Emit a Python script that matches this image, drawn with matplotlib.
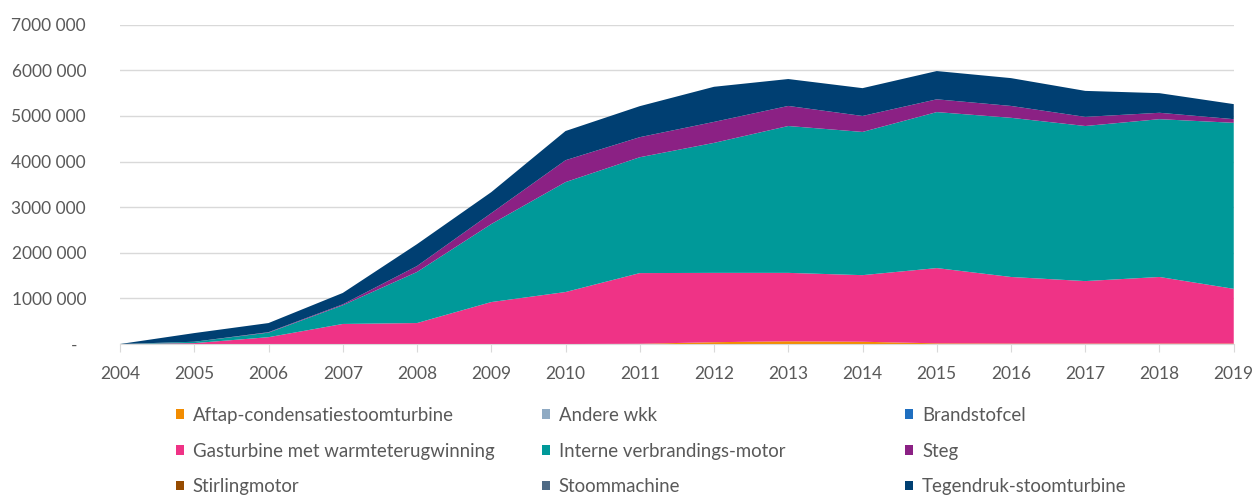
import matplotlib.pyplot as plt
from matplotlib.patches import Patch

years = list(range(2004, 2020))

# values in millions, stacked bottom to top
aftap = [0, 0, 0, 0, 0, 0, 0, 0.005, 0.04, 0.06, 0.05, 0.015, 0.01, 0.01, 0.01, 0.01]
andere_wkk = [0] * 16
brandstofcel = [0] * 16
gasturbine = [0, 0.02, 0.15, 0.44, 0.46, 0.92, 1.14, 1.55, 1.52, 1.50, 1.46, 1.65, 1.46, 1.37, 1.46, 1.20]
interne = [0, 0.03, 0.10, 0.41, 1.12, 1.71, 2.41, 2.54, 2.85, 3.22, 3.14, 3.42, 3.49, 3.40, 3.46, 3.64]
steg = [0, 0.0, 0.01, 0.02, 0.13, 0.24, 0.48, 0.44, 0.46, 0.44, 0.35, 0.28, 0.26, 0.20, 0.14, 0.08]
stirling = [0] * 16
stoommachine = [0] * 16
tegendruk = [0, 0.19, 0.20, 0.25, 0.48, 0.46, 0.64, 0.68, 0.77, 0.59, 0.61, 0.62, 0.61, 0.57, 0.43, 0.33]

labels = ["Aftap-condensatiestoomturbine", "Andere wkk", "Brandstofcel",
          "Gasturbine met warmteterugwinning", "Interne verbrandings-motor", "Steg",
          "Stirlingmotor", "Stoommachine", "Tegendruk-stoomturbine"]
colors = ["#F28C00", "#8FAAC3", "#1F6FC0", "#EF3386", "#009999", "#8B2184",
          "#964B00", "#4E6A85", "#003F72"]
series = [aftap, andere_wkk, brandstofcel, gasturbine, interne, steg,
          stirling, stoommachine, tegendruk]

y_ticks = [0, 1e6, 2e6, 3e6, 4e6, 5e6, 6e6, 7e6]
y_ticklabels = ["-  ", "1000 000", "2000 000", "3000 000", "4000 000",
                "5000 000", "6000 000", "7000 000"]

plt.rcParams["font.family"] = ["Lato", "DejaVu Sans"]
grey = "#595959"

fig = plt.figure(figsize=(12.57, 4.95), dpi=100)
ax = fig.add_axes([0.0955, 0.305, 0.886, 0.645])

vals = [[v * 1e6 for v in s] for s in series]
ax.stackplot(years, *vals, colors=colors, labels=labels, linewidth=0)

ax.set_xlim(2004, 2019)
ax.set_ylim(0, 7e6)
ax.set_yticks(y_ticks)
ax.set_yticklabels(y_ticklabels)
ax.set_xticks(years)
ax.grid(axis="y", color="#D9D9D9", linewidth=1)
ax.set_axisbelow(True)
for side in ["top", "right", "left"]:
    ax.spines[side].set_visible(False)
ax.spines["bottom"].set_color("#D9D9D9")
ax.tick_params(axis="y", length=0, pad=24.5, labelsize=12.5, labelcolor=grey)
ax.tick_params(axis="x", length=6, color="#D9D9D9", pad=10, labelsize=12.5, labelcolor=grey)

handles = [Patch(facecolor=c, edgecolor="none") for c in colors]
col_x = [0.140, 0.431, 0.720]
for i in range(3):
    idx = [i, i + 3, i + 6]
    leg = fig.legend([handles[j] for j in idx], [labels[j] for j in idx],
                     loc="upper left", bbox_to_anchor=(col_x[i], 0.178),
                     frameon=False, fontsize=13.4, labelcolor=grey,
                     handlelength=0.43, handleheight=0.43, handletextpad=0.48,
                     labelspacing=1.0, borderaxespad=0, borderpad=0)

fig.savefig("out.png", dpi=100)
